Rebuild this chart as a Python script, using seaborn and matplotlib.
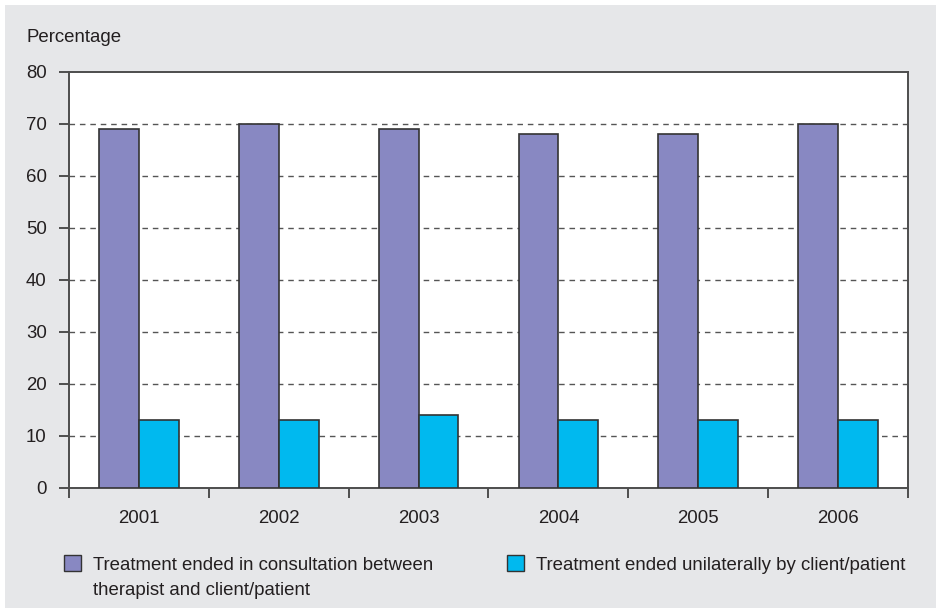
import matplotlib
matplotlib.use("Agg")
import matplotlib.pyplot as plt
from matplotlib.patches import Rectangle, Patch
import numpy as np
import pandas as pd
import seaborn as sns

years = ["2001", "2002", "2003", "2004", "2005", "2006"]
consultation = [69, 70, 69, 68, 68, 70]
unilateral = [13, 13, 14, 13, 13, 13]
series_names = [
    "Treatment ended in consultation between therapist and client/patient",
    "Treatment ended unilaterally by client/patient",
]
legend_lines = [
    ["Treatment ended in consultation between", "therapist and client/patient"],
    ["Treatment ended unilaterally by client/patient"],
]
colors = ["#8888c2", "#00b9ef"]
y_ticks = [0, 10, 20, 30, 40, 50, 60, 70, 80]

df = pd.DataFrame({
    "year": years * 2,
    "value": consultation + unilateral,
    "series": [series_names[0]] * len(years) + [series_names[1]] * len(years),
})

sns.set_theme(style="white")
plt.rcParams["font.family"] = ["Liberation Sans", "DejaVu Sans"]
fs = 13.4
text_color = "#231f20"
spine_color = "#4d4d4d"

fig = plt.figure(figsize=(9.37, 6.08), dpi=100, facecolor="white")
# grey panel behind the chart
fig.patches.append(Rectangle((5 / 937, 0), 1, 1 - 5 / 608, transform=fig.transFigure,
                             facecolor="#e6e7e9", edgecolor="none", zorder=-10))
ax = fig.add_axes([69 / 937, 1 - 488 / 608, (908 - 69) / 937, (488 - 72) / 608])
ax.set_facecolor("white")

sns.barplot(data=df, x="year", y="value", hue="series", palette=colors,
            width=0.57, gap=0, dodge=True, edgecolor="#333333", linewidth=1.2,
            saturation=1, ax=ax, legend=False, zorder=3)

ax.set_ylim(0, 80)
ax.set_xlim(-0.5, len(years) - 0.5)
ax.set_yticks(y_ticks)
ax.set_xlabel("")
ax.set_ylabel("")

# dashed horizontal grid
for v in y_ticks[1:-1]:
    ax.axhline(v, color="#555555", linewidth=1.0, linestyle=(0, (4, 3.5)), zorder=1)

for s in ax.spines.values():
    s.set_visible(True)
    s.set_color(spine_color)
    s.set_linewidth(1.4)

ax.tick_params(axis="y", which="major", direction="out", length=7, width=1.4,
               color=spine_color, pad=9, labelsize=fs, labelcolor=text_color, left=True)
ax.tick_params(axis="x", which="major", length=0, pad=16, labelsize=fs,
               labelcolor=text_color)
ax.set_xticks(np.arange(-0.5, len(years), 1.0), minor=True)
ax.tick_params(axis="x", which="minor", direction="out", length=7, width=1.4,
               color=spine_color, bottom=True)

fig.text(27 / 937, 1 - 37 / 608, "Percentage", fontsize=fs, color=text_color,
         ha="left", va="center")

# legend entries (first line next to the swatch, continuation lines below it)
anchors = [57 / 937, 500 / 937]
legends = []
for lines, color, x0 in zip(legend_lines, colors, anchors):
    leg = fig.legend(handles=[Patch(facecolor=color, edgecolor="#333333", linewidth=1.0)],
                     labels=[lines[0]], loc="upper left",
                     bbox_to_anchor=(x0, 1 - 548 / 608), frameon=False,
                     fontsize=fs, handlelength=0.91, handleheight=0.91,
                     handletextpad=0.65, labelcolor=text_color, borderaxespad=0)
    legends.append((leg, lines))

fig.canvas.draw()
inv = fig.transFigure.inverted()
for leg, lines in legends:
    t = leg.get_texts()[0]
    bb = t.get_window_extent()
    x_fig, y_fig = inv.transform((bb.x0, bb.y0))
    for i, line in enumerate(lines[1:], start=1):
        fig.text(x_fig, y_fig - i * 25 / 608, line, fontsize=fs, color=text_color,
                 ha="left", va="bottom")

fig.savefig("out.png", dpi=100, facecolor=fig.get_facecolor())
